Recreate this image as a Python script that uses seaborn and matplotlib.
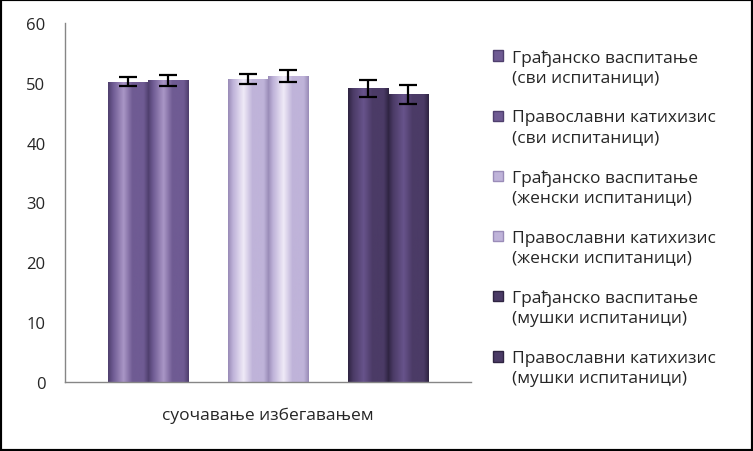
import matplotlib

matplotlib.use("Agg")
import matplotlib.pyplot as plt
import numpy as np
import pandas as pd
import seaborn as sns
from matplotlib.colors import LinearSegmentedColormap
from matplotlib.legend_handler import HandlerPatch
from matplotlib.patches import Rectangle

CATEGORY = "суочавање избегавањем"
GROUPS = ["сви испитаници", "женски испитаници", "мушки испитаници"]
SUBJECTS = ["Грађанско васпитање", "Православни катихизис"]
GRADJANSKO = [50.2, 50.6, 49.1]
PRAVOSLAVNI = [50.4, 51.1, 48.1]
GRADJANSKO_ERR = [0.8, 0.8, 1.4]
PRAVOSLAVNI_ERR = [0.9, 1.0, 1.6]

# (dark edge, base, highlight) per respondent group
SHADES = [
    ("#4f3f6e", "#6f5b93", "#a996c6"),
    ("#9a8cb8", "#bfb3d9", "#efeaf7"),
    ("#2f2442", "#4b3b66", "#67538b"),
]

sns.set_style("white")
plt.rcParams["font.family"] = ["Open Sans", "DejaVu Sans"]

df = pd.DataFrame(
    {
        "group": GROUPS * 2,
        "subject": [SUBJECTS[0]] * 3 + [SUBJECTS[1]] * 3,
        "value": GRADJANSKO + PRAVOSLAVNI,
        "err": GRADJANSKO_ERR + PRAVOSLAVNI_ERR,
    }
)

fig = plt.figure(figsize=(7.53, 4.52), dpi=100)
ax = fig.add_axes([0.0863, 0.1527, 0.5392, 0.7942])

sns.barplot(
    data=df,
    x="group",
    y="value",
    hue="subject",
    order=GROUPS,
    hue_order=SUBJECTS,
    width=2 / 3,
    errorbar=None,
    legend=False,
    ax=ax,
)

# cylinder-like horizontal gradient on each bar
bar_containers = list(ax.containers)
for si, cont in enumerate(bar_containers):
    errs = [GRADJANSKO_ERR, PRAVOSLAVNI_ERR][si]
    for gi, bar in enumerate(cont.patches):
        dark, base, light = SHADES[gi]
        cmap = LinearSegmentedColormap.from_list(
            f"g{gi}",
            [(0, dark), (0.12, base), (0.38, light), (0.6, base), (0.88, base), (1, dark)],
        )
        bar.set_facecolor(base)
        bar.set_edgecolor("none")
        x0, w, h = bar.get_x(), bar.get_width(), bar.get_height()
        im = ax.imshow(
            np.linspace(0, 1, 64)[None, :],
            cmap=cmap,
            extent=(x0, x0 + w, 0, h),
            aspect="auto",
            zorder=bar.get_zorder() + 0.1,
        )
        im.set_clip_path(bar)
        ax.errorbar(
            x0 + w / 2,
            h,
            yerr=errs[gi],
            fmt="none",
            ecolor="black",
            elinewidth=1.6,
            capsize=6.5,
            capthick=1.6,
            zorder=5,
        )

ax.set_xlim(-0.69, 2.69)
ax.set_ylim(0, 60)
ax.set_yticks(range(0, 61, 10))
ax.set_xticks([-0.69, 2.69])
ax.set_xticklabels(["", ""])
ax.set_xticks([1], [CATEGORY], minor=True)
ax.tick_params(axis="x", which="minor", length=0, pad=18, labelsize=12.5)
ax.tick_params(axis="x", which="major", length=5, color="#868686", direction="out")
ax.tick_params(axis="y", length=6, color="#868686", direction="out", labelsize=12, pad=8)
ax.set_xlabel("")
ax.set_ylabel("")
for side in ("top", "right"):
    ax.spines[side].set_visible(False)
for side in ("left", "bottom"):
    ax.spines[side].set_color("#868686")
    ax.spines[side].set_linewidth(1)

handles, labels = [], []
for gi, grp in enumerate(GROUPS):
    for subj in SUBJECTS:
        handles.append(Rectangle((0, 0), 1, 1, facecolor=SHADES[gi][1], edgecolor=SHADES[gi][0]))
        labels.append(f"{subj}\n({grp})")


def first_line_square(legend, orig_handle, xdescent, ydescent, width, height, fontsize):
    # put the marker next to the first text line instead of the centre
    lift = 0.65 * fontsize
    return Rectangle((-xdescent, -ydescent + lift), width, height)


leg = fig.legend(
    handles,
    labels,
    loc="center left",
    bbox_to_anchor=(0.634, 0.517),
    frameon=False,
    fontsize=12.5,
    handlelength=0.55,
    handleheight=0.55,
    handletextpad=0.55,
    labelspacing=1.4,
    handler_map={Rectangle: HandlerPatch(patch_func=first_line_square)},
)
for t in leg.get_texts():
    t.set_linespacing(1.3)

fig.patches.append(
    Rectangle((0, 0), 1, 1, transform=fig.transFigure, fill=False, edgecolor="black", linewidth=3)
)

fig.savefig("out.png", dpi=100)
